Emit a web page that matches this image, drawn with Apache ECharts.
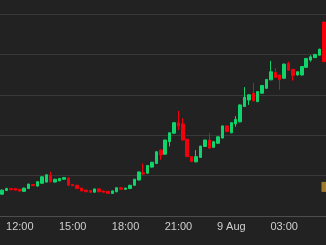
<!DOCTYPE html>
<html><head><meta charset="utf-8">
<script src="https://cdn.jsdelivr.net/npm/echarts@6/dist/echarts.min.js"></script>
<style>html,body{margin:0;padding:0;background:#222222;}#c{width:326px;height:245px;}</style>
</head><body><div id="c"></div>
<script>
const categories = ['11:00','11:15','11:30','11:45','12:00','12:15','12:30','12:45','13:00','13:15','13:30','13:45','14:00','14:15','14:30','14:45','15:00','15:15','15:30','15:45','16:00','16:15','16:30','16:45','17:00','17:15','17:30','17:45','18:00','18:15','18:30','18:45','19:00','19:15','19:30','19:45','20:00','20:15','20:30','20:45','21:00','21:15','21:30','21:45','22:00','22:15','22:30','22:45','23:00','23:15','23:30','23:45','00:00','00:15','00:30','00:45','01:00','01:15','01:30','01:45','02:00','02:15','02:30','02:45','03:00','03:15','03:30','03:45','04:00','04:15','04:30','04:45','05:00','05:15'];
const openVals = [105.4,106.3,106.8,106.8,106.6,106.1,106.8,107.8,107.4,108.1,108.4,110.1,108.4,108.7,109.1,109.4,107.8,107.6,106.9,106.4,106.3,105.9,106.7,106.2,106.1,105.6,106.0,107.0,106.6,106.8,107.6,108.9,110.7,110.6,112.1,113.0,116.3,115.3,118.4,120.5,123.1,122.8,119.0,114.7,113.4,114.5,117.2,118.8,117.0,118.0,119.3,122.3,120.6,122.8,123.3,127.1,128.7,130.4,128.3,130.4,131.6,133.7,135.5,134.9,134.1,137.8,136.3,134.9,134.9,136.8,138.6,139.2,139.8,148.0];
const closeVals = [106.4,106.8,106.5,106.4,106.2,106.9,107.9,107.5,108.5,109.7,110.2,108.5,109.1,109.3,109.5,107.6,107.5,106.8,106.2,106.0,105.9,106.7,106.0,105.9,105.6,106.2,107.0,106.6,106.9,107.6,109.1,110.9,110.4,112.5,113.3,115.9,115.1,118.8,120.6,123.1,122.3,118.8,114.7,113.5,114.7,117.3,118.8,116.8,118.4,119.6,122.3,120.9,123.1,123.9,127.5,129.4,130.0,128.5,130.8,132.3,133.8,135.7,134.3,133.8,137.6,136.1,134.8,135.7,137.0,139.0,139.4,140.0,141.3,138.2];
const lowVals = [105.2,106.2,106.4,106.3,106.0,106.0,106.7,107.4,107.3,108.0,108.3,108.3,108.3,108.6,109.0,107.5,107.4,106.7,106.1,105.9,105.8,105.8,105.9,105.8,105.5,105.5,105.9,106.5,106.5,106.7,107.5,108.8,110.2,110.5,112.0,112.9,113.9,115.2,117.2,120.4,121.3,118.7,114.6,113.4,113.3,114.4,117.1,116.7,116.9,117.9,119.2,120.8,120.5,122.1,123.2,127.0,127.5,128.4,128.2,130.3,131.5,133.6,134.2,131.2,134.0,136.0,133.5,134.8,134.8,136.7,138.2,139.1,139.7,138.1];
const highVals = [106.6,107.0,106.9,106.9,106.7,107.0,108.0,107.9,108.6,109.8,110.3,111.0,109.2,109.4,109.6,109.5,107.9,107.7,107.0,106.5,106.4,106.8,106.8,106.3,106.2,106.3,107.1,107.1,107.0,107.7,109.2,111.0,113.0,112.6,113.4,116.0,116.5,118.9,120.7,123.2,126.0,124.2,119.1,114.8,116.3,117.4,118.9,120.5,118.5,119.7,122.4,122.4,123.2,124.7,127.6,131.9,130.1,133.0,130.9,132.4,133.9,138.4,136.6,135.0,137.7,138.2,136.4,135.8,137.1,139.1,139.8,140.1,141.4,148.2];
const tickCategories = ['12:00','15:00','18:00','21:00','00:00','03:00'];
const tickLabels = ['12:00','15:00','18:00','21:00','9 Aug','03:00'];
const markerValue = 107.2;

const candleData = categories.map((c, i) => [openVals[i], closeVals[i], lowVals[i], highVals[i]]);

const chart = echarts.init(document.getElementById('c'), null, {renderer: 'canvas'});
chart.setOption({
  backgroundColor: '#222222',
  animation: false,
  grid: {left: 0, right: -1.5, top: 14, bottom: 29, containLabel: false},
  xAxis: {
    type: 'category',
    data: categories,
    boundaryGap: true,
    axisLine: {show: true, lineStyle: {color: '#4d4d4d', width: 1}},
    axisTick: {show: false},
    splitLine: {show: false},
    axisLabel: {
      color: '#cfcfcf',
      fontSize: 11,
      fontFamily: 'Liberation Sans, Arial, sans-serif',
      margin: 5,
      interval: (idx, val) => tickCategories.indexOf(val) >= 0,
      formatter: (val) => {
        const k = tickCategories.indexOf(val);
        return k >= 0 ? tickLabels[k] : '';
      }
    }
  },
  yAxis: {
    type: 'value',
    min: 100,
    max: 150,
    interval: 10,
    axisLine: {show: false},
    axisTick: {show: false},
    axisLabel: {show: false},
    splitLine: {show: true, lineStyle: {color: '#383838', width: 1}}
  },
  series: [{
    type: 'candlestick',
    data: candleData,
    barWidth: 3,
    itemStyle: {
      color: '#10d36b',
      color0: '#f2000c',
      borderColor: '#10d36b',
      borderColor0: '#f2000c',
      borderWidth: 1
    },
    markPoint: {
      silent: true,
      symbol: 'rect',
      symbolSize: [20, 10],
      symbolOffset: [7.7, 0],
      itemStyle: {color: '#9c7c28'},
      label: {show: false},
      data: [{coord: [categories[categories.length - 1], markerValue]}]
    }
  }]
});
</script>
</body></html>
